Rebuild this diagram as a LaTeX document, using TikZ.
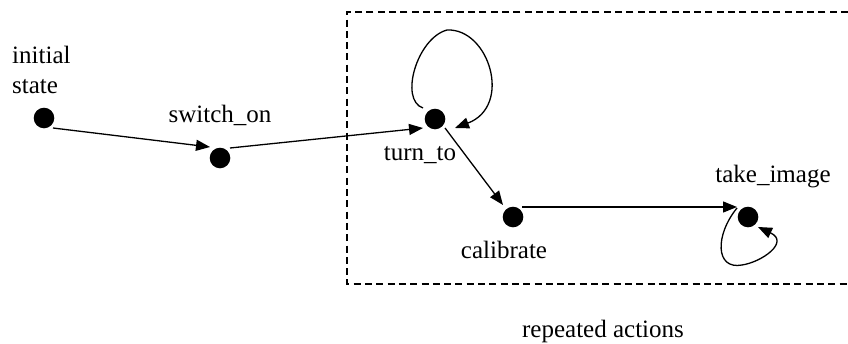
\documentclass[tikz,border=0pt]{standalone}
\usepackage{fontspec}
\setmainfont{Liberation Serif}
\usetikzlibrary{arrows.meta,calc}
\begin{document}
\begin{tikzpicture}[x=1pt,y=-1pt,
  state/.style={circle,fill=black,inner sep=0pt,minimum size=20.6pt},
  lbl/.style={inner sep=0pt,font=\fontsize{25}{30}\selectfont},
  arrow/.style={line width=1.3pt,-{Triangle[length=14pt,width=11pt]}},
  region/.style={line width=1.3pt,dash pattern=on 7pt off 4.3pt}]
\useasboundingbox (0,0) rectangle (848,343);

% states
\node[state] (init)  at (44,118) {};
\node[state] (swon)  at (220,158) {};
\node[state] (turn)  at (435,119) {};
\node[state] (calib) at (513,217) {};
\node[state] (take)  at (748,217) {};

% labels
\node[lbl,anchor=base west] (linit)  at (12,63) {initial};
\node[lbl,anchor=base west] (lstate) at (12,93) {state};
\node[lbl,anchor=base] (lswon)  at (220,122) {switch\_on};
\node[lbl,anchor=base] (lturn)  at (420,160) {turn\_to};
\node[lbl,anchor=base] (lcalib) at (504,258) {calibrate};
\node[lbl,anchor=base] (ltake)  at (773,182) {take\_image};
\node[lbl,anchor=base] (lrep)   at (603,337) {repeated actions};

% region of repeated actions (open to the right)
\draw[region] (848,12) -- (347,12) -- (347,284) -- (848,284);

% transitions
\draw[arrow] ($(init)+(9,10)$) -- ($(swon)+(-10,-11)$);
\draw[arrow] ($(swon)+(10,-10)$) -- ($(turn)+(-12,9)$);
\draw[arrow] ($(turn)+(10,9)$) -- ($(calib)+(-10,-12)$);
\draw[arrow] ($(calib)+(9,-10)$) -- ($(take)+(-11,-10)$);

% self loops
\draw[arrow] ($(turn)+(-12,-11)$) .. controls +(-24,-8) and +(-30,8) .. ($(turn)+(12,-89)$)
  .. controls +(42,-2) and +(58,-22) .. ($(turn)+(20,9)$);
\draw[arrow] ($(take)+(-11,-9)$) .. controls +(-22,27) and +(-27,5) .. ($(take)+(-6,48)$)
  .. controls +(20,-3) and +(32,15) .. ($(take)+(10,10)$);
\end{tikzpicture}
\end{document}
